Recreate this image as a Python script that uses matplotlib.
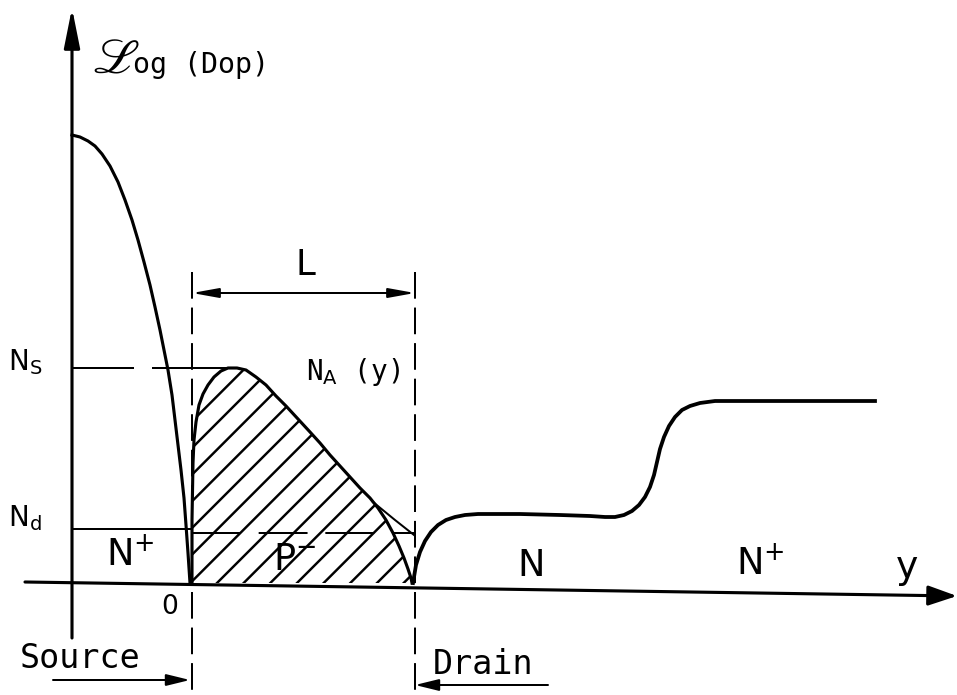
import numpy as np
import matplotlib.pyplot as plt

plt.rcParams['mathtext.fontset'] = 'dejavusans'
plt.rcParams['hatch.linewidth'] = 1.1
plt.rcParams['lines.scale_dashes'] = False

# drawing coordinates (x to the right, y downward, in picture units)
# source N+ profile, falling from the axis to the source junction
source_x = [72, 80, 88, 95, 102, 110, 118, 125, 132, 138, 144, 150, 155, 160, 164, 168, 172, 175, 178, 181, 184, 186, 188, 190]
source_y = [135, 137, 141, 146, 154, 166, 182, 200, 220, 240, 262, 285, 307, 330, 350, 370, 395, 420, 445, 470, 498, 525, 553, 583]

# channel acceptor profile N_A(y), hatched P region
na_x = [192, 192, 193, 194, 196, 199, 203, 208, 214, 221, 228, 237, 246, 256, 266, 276, 286, 298, 310, 320,
        330, 340, 350, 360, 370, 378, 386, 393, 399, 404, 408, 411, 412]
na_y = [583, 520, 463, 440, 422, 405, 394, 385, 377, 371, 368, 368, 370, 377, 385, 396, 406, 419, 432, 443,
        455, 466, 477, 488, 498, 508, 520, 533, 546, 558, 569, 578, 583]
# thin continuation of N_A(y) up to the drain boundary
na_tail_x = [373, 395, 414]
na_tail_y = [502, 520, 535]

# drain side N then N+ profile
drain_x = [413, 416, 420, 425, 431, 438, 446, 455, 465, 478, 495, 520, 560, 590, 605, 615, 624, 632, 639, 645,
           650, 654, 657, 660, 664, 669, 675, 682, 690, 700, 715, 740, 800, 875]
drain_y = [583, 565, 552, 541, 532, 525, 520, 517, 515, 514, 514, 514, 515, 516, 517, 517, 515, 511, 505, 497,
           487, 475, 462, 449, 437, 426, 417, 410, 406, 403, 401, 401, 401, 401]

# axes, levels, boundaries
y_axis_x = 72
y_axis_span = [638, 8]
x_axis_x = [25, 957]
x_axis_y = [582, 596]
ns_level = 368
nd_level_left = 529
nd_level_right = 533
source_edge = 192
drain_edge = 415
boundary_span = [272, 690]
l_arrow_y = 293
source_arrow_x = [53, 190]
source_arrow_y = 680
drain_arrow_x = [548, 415]
drain_arrow_y = 685

fig = plt.figure(figsize=(957 / 160, 695 / 160), dpi=160)
ax = fig.add_axes([0, 0, 1, 1])
ax.set_xlim(0, 957)
ax.set_ylim(695, 0)
ax.axis('off')

lw_main = 1.4
lw_thin = 0.9

# axes with arrows
ax.annotate('', xy=(y_axis_x, y_axis_span[1]), xytext=(y_axis_x, y_axis_span[0]),
            arrowprops=dict(arrowstyle='-|>,head_length=1.5,head_width=0.3', lw=lw_main,
                            color='k', shrinkA=0, shrinkB=0))
ax.annotate('', xy=(x_axis_x[1], x_axis_y[1]), xytext=(x_axis_x[0], x_axis_y[0]),
            arrowprops=dict(arrowstyle='-|>,head_length=1.1,head_width=0.38', lw=lw_main,
                            color='k', shrinkA=0, shrinkB=0))

# hatched P region
ax.fill(na_x, na_y, facecolor='none', edgecolor='k', linewidth=0, hatch='//')
ax.plot(na_x, na_y, color='k', lw=lw_main, solid_joinstyle='round')
ax.plot(na_tail_x, na_tail_y, color='k', lw=lw_thin)

# doping profiles
ax.plot(source_x, source_y, color='k', lw=lw_main, solid_joinstyle='round')
ax.plot(drain_x, drain_y, color='k', lw=lw_main + 0.3, solid_joinstyle='round')

# N_s and N_d levels
ax.plot([y_axis_x, 133], [ns_level, ns_level], color='k', lw=lw_thin)
ax.plot([153, 228], [ns_level, ns_level], color='k', lw=lw_thin)
ax.plot([y_axis_x, source_edge], [nd_level_left, nd_level_left], color='k', lw=lw_thin)
ax.plot([source_edge, drain_edge], [nd_level_right, nd_level_right], color='k', lw=lw_thin,
        dashes=(22, 8))

# junction boundaries
for xb in (source_edge, drain_edge):
    ax.plot([xb, xb], boundary_span, color='k', lw=lw_thin, dashes=(12, 4))

# channel length L
ax.annotate('', xy=(drain_edge, l_arrow_y), xytext=(source_edge, l_arrow_y),
            arrowprops=dict(arrowstyle='<|-|>,head_length=1.0,head_width=0.18', lw=lw_thin,
                            color='k', shrinkA=0, shrinkB=0))

# source / drain arrows
ax.annotate('', xy=(source_arrow_x[1], source_arrow_y), xytext=(source_arrow_x[0], source_arrow_y),
            arrowprops=dict(arrowstyle='-|>,head_length=0.9,head_width=0.22', lw=lw_thin,
                            color='k', shrinkA=0, shrinkB=0))
ax.annotate('', xy=(drain_arrow_x[1], drain_arrow_y), xytext=(drain_arrow_x[0], drain_arrow_y),
            arrowprops=dict(arrowstyle='-|>,head_length=0.9,head_width=0.22', lw=lw_thin,
                            color='k', shrinkA=0, shrinkB=0))

# labels
fam = 'DejaVu Sans'
mono = 'DejaVu Sans Mono'
ax.text(92, 73, r'$\mathscr{L}$', fontsize=22, va='baseline', ha='left', math_fontfamily='stix')
ax.text(133, 73, 'og (Dop)', family=mono, fontsize=12.7, va='baseline', ha='left')
ax.text(8, 362, r'N$_\mathrm{S}$', family=fam, fontsize=12.5, va='center', ha='left')
ax.text(8, 518, r'N$_\mathrm{d}$', family=fam, fontsize=12.5, va='center', ha='left')
ax.text(106, 555, r'N$^{+}$', family=fam, fontsize=16.5, va='center', ha='left')
ax.text(273, 560, r'P$^{-}$', family=fam, fontsize=16.5, va='center', ha='left',
        bbox=dict(facecolor='none', edgecolor='none'))
ax.text(170, 607, '0', family=fam, fontsize=12, va='center', ha='center')
ax.text(306, 372, r'N$_\mathrm{A}$ (y)', family=mono, fontsize=12.5, va='center', ha='left')
ax.text(305, 265, 'L', family=fam, fontsize=16, va='center', ha='center')
ax.text(531, 566, 'N', family=fam, fontsize=16.5, va='center', ha='center')
ax.text(760, 564, r'N$^{+}$', family=fam, fontsize=16.5, va='center', ha='center')
ax.text(907, 568, 'y', family=fam, fontsize=17, va='center', ha='center')
ax.text(20, 659, 'Source', family=mono, fontsize=15, va='center', ha='left')
ax.text(433, 664, 'Drain', family=mono, fontsize=15, va='center', ha='left')

fig.savefig('out.png', dpi=160)
